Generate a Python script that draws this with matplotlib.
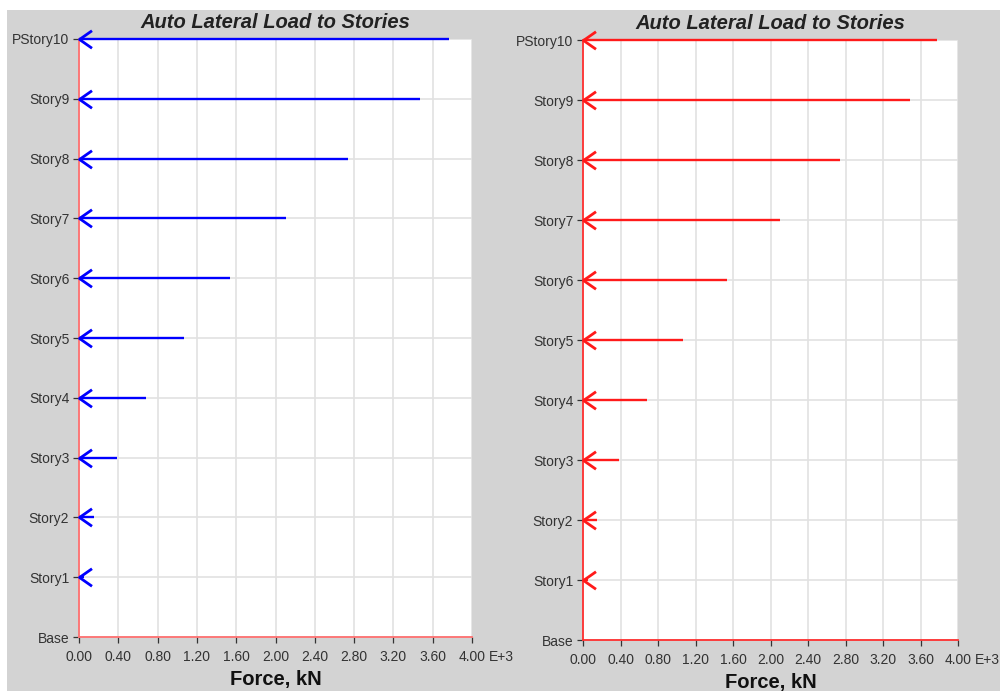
import numpy as np
import matplotlib.pyplot as plt
from matplotlib.path import Path
from matplotlib.patches import Rectangle

plt.rcParams['font.family'] = ['Liberation Sans', 'DejaVu Sans']

# data (kN x 1000)
stories = ['Base', 'Story1', 'Story2', 'Story3', 'Story4', 'Story5',
           'Story6', 'Story7', 'Story8', 'Story9', 'PStory10']
levels = np.arange(1, 11)
force_left = np.array([0.05, 0.15, 0.39, 0.68, 1.07, 1.54, 2.11, 2.74, 3.47, 3.77])
force_right = np.array([0.05, 0.15, 0.38, 0.68, 1.07, 1.54, 2.10, 2.74, 3.49, 3.78])
xticks = np.arange(0, 4.01, 0.4)

fig = plt.figure(figsize=(10, 6.91), dpi=100)
fig.patch.set_facecolor('white')
fig.patches.append(Rectangle((0.007, 0), 0.993, 1 - 10 / 691, transform=fig.transFigure,
                             facecolor='#d3d3d3', edgecolor='none', zorder=-10))

# open chevron arrow head, tip at origin
head = Path([(1, 0.7), (0, 0), (1, -0.7)], [Path.MOVETO, Path.LINETO, Path.LINETO])

panels = [
    ([0.079, 0.0781, 0.393, 0.8655], force_left, '#0000ff', '#ff7070'),
    ([0.583, 0.0738, 0.375, 0.8683], force_right, '#ff1a1a', '#ff3030'),
]

for rect, force, col, spcol in panels:
    ax = fig.add_axes(rect)
    ax.set_facecolor('white')
    ax.set_xlim(0, 4.0)
    ax.set_ylim(0, 10)
    ax.grid(True, color='#e2e2e2', linewidth=1.2)
    ax.set_axisbelow(True)

    ax.hlines(levels, 0, force, color=col, linewidth=1.7, clip_on=False, zorder=3)
    ax.plot(np.zeros_like(force), levels, linestyle='none', marker=head,
            markersize=18, markeredgewidth=2.0, markeredgecolor=col,
            markerfacecolor='none', clip_on=False, zorder=4)

    for s in ['top', 'right']:
        ax.spines[s].set_visible(False)
    for s in ['left', 'bottom']:
        ax.spines[s].set_color(spcol)
        ax.spines[s].set_linewidth(1.3)

    ax.set_yticks(np.arange(0, 11))
    ax.set_yticklabels(stories)
    ax.set_xticks(xticks)
    ax.set_xticklabels([f'{t:.2f}' for t in xticks])
    ax.tick_params(axis='both', length=4, width=0.9, color='#333333',
                   labelcolor='#333333', labelsize=10)
    ax.tick_params(axis='x', pad=5)
    ax.tick_params(axis='y', pad=3)

    ax.annotate('E+3', xy=(1, 0), xycoords='axes fraction', xytext=(12, -9),
                textcoords='offset points', ha='left', va='top',
                fontsize=10, color='#333333')
    ax.set_title('Auto Lateral Load to Stories', fontsize=14.5, fontweight='bold',
                 fontstyle='italic', color='#222222', pad=8)
    ax.set_xlabel('Force, kN', fontsize=14.5, fontweight='bold', color='#111111',
                  labelpad=5)

fig.savefig('out.png', dpi=100)
